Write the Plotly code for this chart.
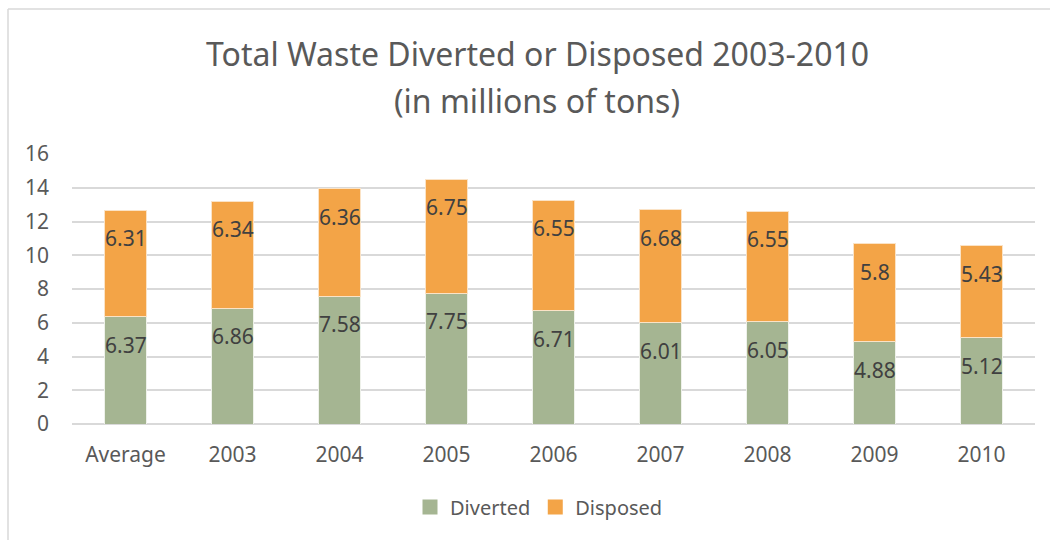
import plotly.graph_objects as go

categories = ["Average", "2003", "2004", "2005", "2006", "2007", "2008", "2009", "2010"]
diverted = [6.37, 6.86, 7.58, 7.75, 6.71, 6.01, 6.05, 4.88, 5.12]
disposed = [6.31, 6.34, 6.36, 6.75, 6.55, 6.68, 6.55, 5.8, 5.43]
y_ticks = [0, 2, 4, 6, 8, 10, 12, 14, 16]
title_lines = ["Total Waste Diverted or Disposed 2003-2010", "(in millions of tons)"]

GREEN = "#A5B592"
ORANGE = "#F3A447"
FONT = "'Noto Sans', 'Open Sans', sans-serif"

fig = go.Figure()
fig.add_trace(go.Bar(x=categories, y=diverted, name="Diverted", showlegend=False,
                     marker=dict(color=GREEN, line=dict(color="#EEF1EA", width=1))))
fig.add_trace(go.Bar(x=categories, y=disposed, name="Disposed", showlegend=False,
                     marker=dict(color=ORANGE, line=dict(color="#FBE3C6", width=1))))

# legend keys as filled squares
for name, color in (("Diverted", GREEN), ("Disposed", ORANGE)):
    fig.add_trace(go.Scatter(x=[None], y=[None], mode="markers", name=name,
                             marker=dict(symbol="square", size=15, color=color)))

# value labels sit just inside the top of each segment (x given as category index)
annotations = []
for i, (dv, dp) in enumerate(zip(diverted, disposed)):
    annotations.append(dict(x=i, y=dv, text=f"{dv:g}", showarrow=False,
                            yanchor="middle", yshift=-28,
                            font=dict(size=21, color="#404040", family=FONT)))
    annotations.append(dict(x=i, y=dv + dp, text=f"{dp:g}", showarrow=False,
                            yanchor="middle", yshift=-28,
                            font=dict(size=21, color="#404040", family=FONT)))

# chart frame
L, T, B, R = 72, 154, 424, 1035
W, H = R - L, B - T
def px_x(p):
    return (p - L) / W
def px_y(p):
    return (B - p) / H

# two-line chart title
for text, cy in zip(title_lines, (54, 100)):
    annotations.append(dict(xref="paper", yref="paper", x=px_x(537), y=px_y(cy),
                            xanchor="center", yanchor="middle", showarrow=False,
                            text=text, font=dict(size=32, color="#595959", family=FONT)))

shapes = [
    dict(type="line", xref="paper", yref="paper", x0=px_x(8), x1=px_x(8),
         y0=px_y(9), y1=px_y(545), line=dict(color="#D9D9D9", width=1.5)),
    dict(type="line", xref="paper", yref="paper", x0=px_x(8), x1=px_x(1060),
         y0=px_y(9), y1=px_y(9), line=dict(color="#D9D9D9", width=1.5)),
]

fig.update_layout(
    barmode="stack",
    bargap=0.6,
    width=1050, height=540,
    margin=dict(l=L, r=1050 - R, t=T, b=540 - B),
    paper_bgcolor="white", plot_bgcolor="white",
    font=dict(family=FONT, color="#595959"),
    xaxis=dict(type="category", categoryorder="array", categoryarray=categories,
               range=[-0.5, len(categories) - 0.5], autorange=False,
               showgrid=False, showline=False, ticks="",
               tickfont=dict(size=21, color="#595959"), ticklabelstandoff=16),
    yaxis=dict(range=[0, 16], tickvals=y_ticks, showgrid=True,
               gridcolor="#D9D9D9", gridwidth=1.5, zeroline=True,
               zerolinecolor="#D9D9D9", zerolinewidth=1.5,
               tickfont=dict(size=21, color="#595959"), ticklabelstandoff=22),
    legend=dict(orientation="h", x=px_x(539), xanchor="center", y=px_y(507),
                yanchor="middle", font=dict(size=20, color="#595959"),
                traceorder="normal", itemwidth=30),
    annotations=annotations,
    shapes=shapes,
    showlegend=True,
)

fig.write_html("out.html")
